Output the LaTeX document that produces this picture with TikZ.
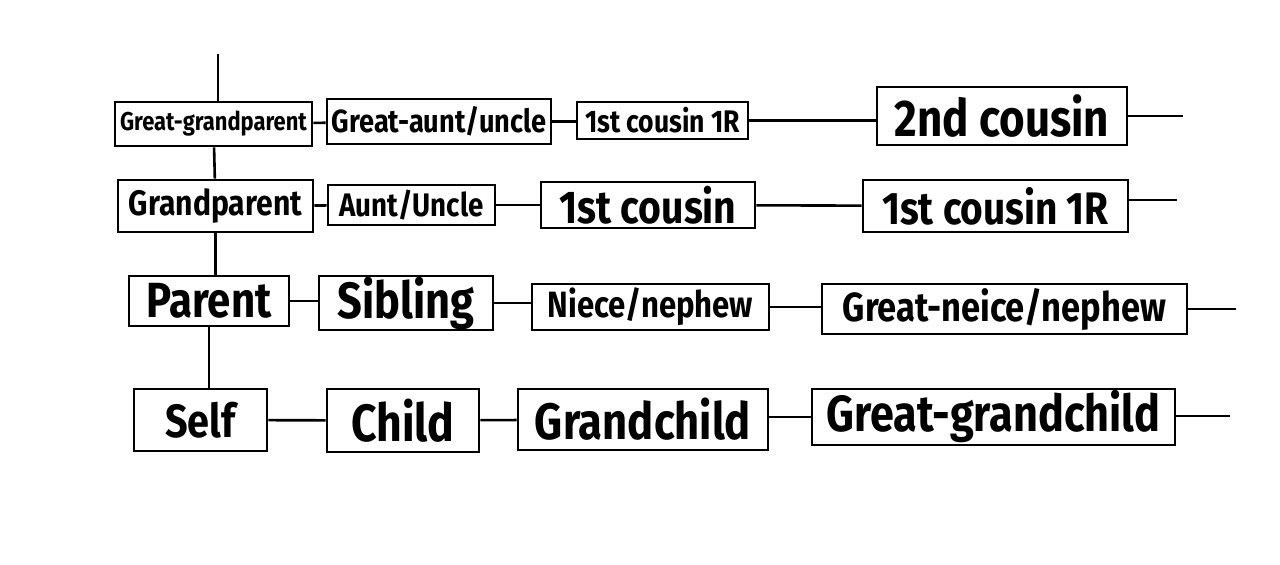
\documentclass[tikz,border=0pt]{standalone}
\usepackage{fontspec}
\setmainfont[FakeStretch=0.85]{Fira Sans}
\usepackage{tikz}
\usetikzlibrary{positioning}
\tikzset{
  kin/.style n args={3}{draw, line width=1.4pt, rectangle, inner sep=0pt,
    minimum width=#1*0.5pt, minimum height=#2*0.5pt,
    font=\bfseries\fontsize{#3pt}{#3pt}\selectfont},
  tie/.style={line width=1.3pt}
}
\begin{document}
\begin{tikzpicture}[x=0.5pt, y=-0.5pt]
        \useasboundingbox (0,0) rectangle (1280,564);
        % great-grandparent row
        \node (ggp)  [kin={197}{44}{12.9}] at (213.5,124) {Great-grandparent};
        \node (gau)  [kin={224}{45}{16}] at (439,121.5) {Great-aunt/uncle};
        \node (cor1) [kin={171}{37}{15.6}] at (662.5,120.5) {1st cousin 1R};
        \node (sec)  [kin={250}{58}{25.8}] at (1002,116) {2nd cousin};
        % grandparent row
        \node (gp)   [kin={195}{52}{17.7}] at (215.5,206) {Grandparent};
        \node (au)   [kin={167}{40}{16.3}] at (411.5,205) {Aunt/Uncle};
        \node (fc)   [kin={214}{46}{23}] at (648,205) {1st cousin};
        \node (cor2) [kin={265}{52}{22.8}] at (995.5,206) {1st cousin 1R};
        % parent row
        \node (par)  [kin={160}{50}{24.7}] at (209,301) {Parent};
        \node (sib)  [kin={174}{54}{25.5}] at (406,303) {Sibling};
        \node (nn)   [kin={237}{46}{18.3}] at (650.5,307) {Niece/nephew};
        \node (gnn)  [kin={365}{50}{20.3}] at (1004.5,309) {Great-neice/nephew};
        % self row
        \node (self) [kin={133}{62}{23.3}] at (200.5,420) {Self};
        \node (ch)   [kin={152}{63}{26.2}] at (403,420.5) {Child};
        \node (gc)   [kin={250}{61}{25.6}] at (643,419.5) {Grandchild};
        \node (ggc)  [kin={363}{56}{25.4}] at (993.5,417) {Great-grandchild};

        \coordinate (top) at (218,54);
        \coordinate (end1) at (1183,116);
        \coordinate (end2) at (1177,200);
        \coordinate (end3) at (1236,309);
        \coordinate (end4) at (1230,416);

        \path[tie]
            (top) edge (top |- ggp.north)
            (ggp) edge (gp)
            (gp.south) edge (gp.south |- par.north)
            (par.south) edge (par.south |- self.north)
            (ggp) edge (gau)
            (gau.east) edge (gau.east -| cor1.west)
            (cor1.east) edge (cor1.east -| sec.west)
            (sec) edge (end1)
            (gp) edge (au)
            (au) edge (fc)
            (fc) edge (cor2)
            (cor2.east |- end2) edge (end2)
            (par.east) edge (par.east -| sib.west)
            (sib.east) edge (sib.east -| nn.west)
            (nn.east) edge (nn.east -| gnn.west)
            (gnn) edge (end3)
            (self) edge (ch)
            (ch) edge (gc)
            (gc.east |- ggc.west) edge (ggc.west)
            (ggc.east |- end4) edge (end4)
        ;
    \end{tikzpicture}
\end{document}
